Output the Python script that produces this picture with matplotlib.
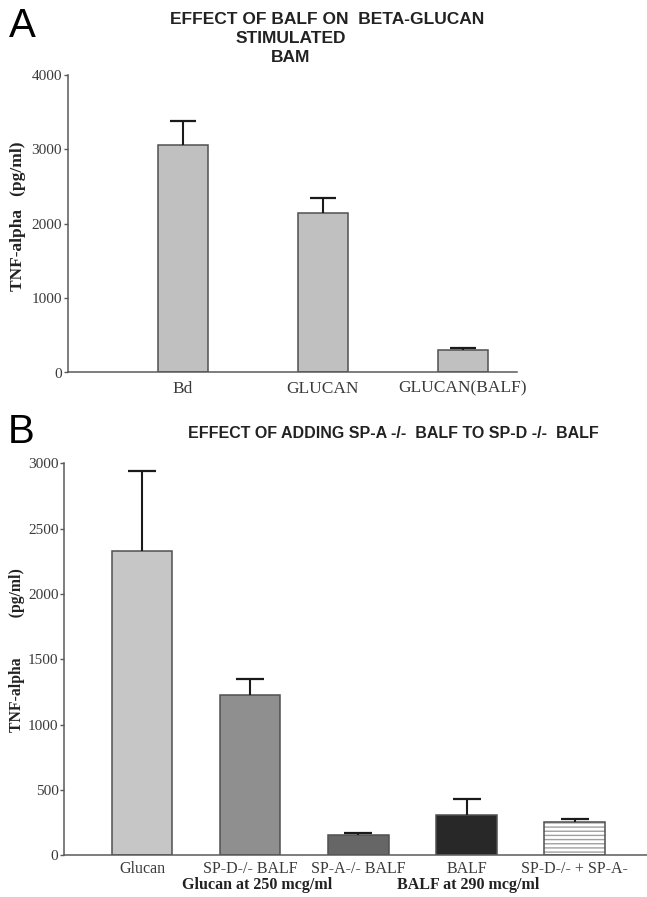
import matplotlib
matplotlib.use("Agg")
import matplotlib.pyplot as plt
from matplotlib import font_manager

# panel A data
a_labels = ["Bd", "GLUCAN", "GLUCAN(BALF)"]
a_means = [3062, 2140, 302]
a_errs = [314, 210, 31]

# panel B data
b_labels = ["Glucan", "SP-D-/- BALF", "SP-A-/- BALF", "BALF", "SP-D-/- + SP-A-"]
b_means = [2328, 1224, 155, 308, 252]
b_errs = [610, 127, 18, 124, 23]
b_colors = ["#c6c6c6", "#8f8f8f", "#666666", "#282828", "#ffffff"]

names = {f.name for f in font_manager.fontManager.ttflist}
title_font = "Liberation Sans Narrow" if "Liberation Sans Narrow" in names else "Liberation Sans"
serif = "Liberation Serif"

W, H = 647, 897
fig = plt.figure(figsize=(W / 100, H / 100), dpi=100)

spine_col = "#5a5a5a"
tick_col = "#3a3a3a"


def style_axes(ax):
    for s in ["top", "right"]:
        ax.spines[s].set_visible(False)
    for s in ["left", "bottom"]:
        ax.spines[s].set_color(spine_col)
        ax.spines[s].set_linewidth(1.1)
    ax.tick_params(axis="y", length=3, width=1, color=spine_col, pad=1,
                   labelsize=11, labelcolor=tick_col)
    for lab in ax.get_yticklabels() + ax.get_xticklabels():
        lab.set_fontfamily(serif)


def up_errors(ax, x, means, errs, cap):
    # only the upper half of the error bar, with a cap on top
    tops = [m + e for m, e in zip(means, errs)]
    ax.vlines(x, means, tops, color="#1a1a1a", linewidth=1.5, zorder=3)
    ax.plot(x, tops, linestyle="none", marker="_", markersize=cap,
            markeredgewidth=1.6, color="#1a1a1a", zorder=3)


# ---------- panel A ----------
axA = fig.add_axes([67.7 / W, 1 - 372.5 / H, 449 / W, 297.5 / H])
xa = [1, 2, 3]
axA.bar(xa, a_means, width=0.362, color="#c0c0c0", edgecolor="#505050", linewidth=1.1, zorder=2)
up_errors(axA, xa, a_means, a_errs, 19)
axA.set_xlim(0.176, 3.384)
axA.set_ylim(0, 4000)
axA.set_yticks([0, 1000, 2000, 3000, 4000])
axA.set_xticks(xa)
axA.set_xticklabels(a_labels)
axA.tick_params(axis="x", length=0, pad=6, labelsize=12.5, labelcolor=tick_col)
style_axes(axA)

fig.text(18 / W, 1 - 216 / H, "TNF-alpha   (pg/ml)", rotation=90, ha="center", va="center",
         fontsize=12.5, fontweight="bold", family=serif, color="#222222")
fig.text(9 / W, 1 - 26 / H, "A", fontsize=29, family="Liberation Sans", va="center", ha="left")
fig.text(327 / W, 1 - 19 / H, "EFFECT OF BALF ON  BETA-GLUCAN", ha="center", va="center",
         fontsize=12.5, fontweight="bold", family=title_font, color="#222222")
fig.text(291 / W, 1 - 38.5 / H, "STIMULATED", ha="center", va="center",
         fontsize=12.5, fontweight="bold", family=title_font, color="#222222")
fig.text(291 / W, 1 - 57 / H, "BAM", ha="center", va="center",
         fontsize=12.5, fontweight="bold", family=title_font, color="#222222")

# ---------- panel B ----------
axB = fig.add_axes([64 / W, 1 - 855.3 / H, 583 / W, 392 / H])
xb = list(range(len(b_labels)))
for i in xb:
    if i == len(b_labels) - 1:
        axB.bar(i, b_means[i], width=0.558, color="#ffffff", edgecolor="#a0a0a0",
                linewidth=0, hatch="----", zorder=2)
        axB.bar(i, b_means[i], width=0.558, color="none", edgecolor="#505050",
                linewidth=1.1, zorder=2)
    else:
        axB.bar(i, b_means[i], width=0.558, color=b_colors[i], edgecolor="#505050",
                linewidth=1.1, zorder=2)
up_errors(axB, xb, b_means, b_errs, 20)
axB.set_xlim(-0.724, 4.67)
axB.set_ylim(0, 3000)
axB.set_yticks(range(0, 3001, 500))
axB.set_xticks(xb)
axB.set_xticklabels(b_labels)
axB.tick_params(axis="x", length=0, pad=4, labelsize=11.5, labelcolor=tick_col)
style_axes(axB)

fig.text(17 / W, 1 - 650 / H, "TNF-alpha          (pg/ml)", rotation=90, ha="center", va="center",
         fontsize=11.3, fontweight="bold", family=serif, color="#222222")
fig.text(8 / W, 1 - 432 / H, "B", fontsize=29, family="Liberation Sans", va="center", ha="left")
fig.text(393 / W, 1 - 433 / H, "EFFECT OF ADDING SP-A -/-  BALF TO SP-D -/-  BALF", ha="center",
         va="center", fontsize=11.5, fontweight="bold", family=title_font, color="#222222")
fig.text(257 / W, 1 - 885 / H, "Glucan at 250 mcg/ml", ha="center", va="center",
         fontsize=11.5, fontweight="bold", family=serif, color="#222222")
fig.text(468 / W, 1 - 885 / H, "BALF at 290 mcg/ml", ha="center", va="center",
         fontsize=11.5, fontweight="bold", family=serif, color="#222222")

fig.savefig("out.png", dpi=100)
